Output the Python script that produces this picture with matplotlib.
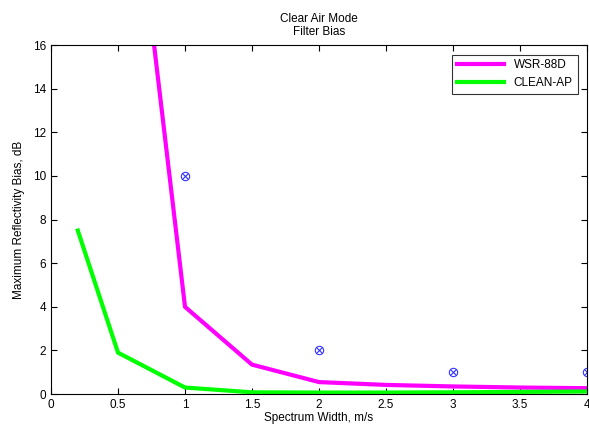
import matplotlib
matplotlib.use('Agg')
import matplotlib.pyplot as plt

plt.rcParams['font.family'] = ['Liberation Sans', 'DejaVu Sans']
plt.rcParams['font.size'] = 8.5

# data
width = [0.5, 1.0, 1.5, 2.0, 2.5, 3.0, 3.5, 4.0]
wsr88d = [30.0, 4.0, 1.35, 0.55, 0.42, 0.35, 0.3, 0.27]
clean_w = [0.2, 0.5, 1.0, 1.5, 2.0, 2.5, 3.0, 3.5, 4.0]
clean_ap = [7.5, 1.9, 0.3, 0.08, 0.07, 0.07, 0.08, 0.1, 0.12]
meas_w = [1, 2, 3, 4]
meas_bias = [10, 2, 1, 1]

fig = plt.figure(figsize=(5.89, 4.34), dpi=100)
ax = fig.add_axes([0.0866, 0.092, 0.910, 0.804])

ax.plot(width, wsr88d, color='#ff00ff', lw=3, label='WSR-88D')
ax.plot(clean_w, clean_ap, color='#00ff00', lw=3, label='CLEAN-AP')
ax.plot(meas_w, meas_bias, 'o', mfc='none', mec='#3333ff', ms=6, mew=0.8)
ax.plot(meas_w, meas_bias, 'x', color='#3333ff', ms=4, mew=0.8)

ax.set_xlim(0, 4)
ax.set_ylim(0, 16)
ax.set_xticks([0, 0.5, 1, 1.5, 2, 2.5, 3, 3.5, 4])
ax.set_xticklabels(['0', '0.5', '1', '1.5', '2', '2.5', '3', '3.5', '4'])
ax.set_yticks(range(0, 17, 2))
ax.tick_params(direction='in', top=True, right=True, length=4)
ax.set_xlabel('Spectrum Width, m/s', labelpad=1)
ax.set_ylabel('Maximum Reflectivity Bias, dB', labelpad=6)
ax.set_title('Clear Air Mode\nFilter Bias', fontsize=8.5, pad=7)

leg = ax.legend(loc='upper right', fancybox=False, edgecolor='black',
                handlelength=4, borderaxespad=0.8)
leg.get_frame().set_linewidth(0.8)

fig.savefig('out.png', dpi=100)
